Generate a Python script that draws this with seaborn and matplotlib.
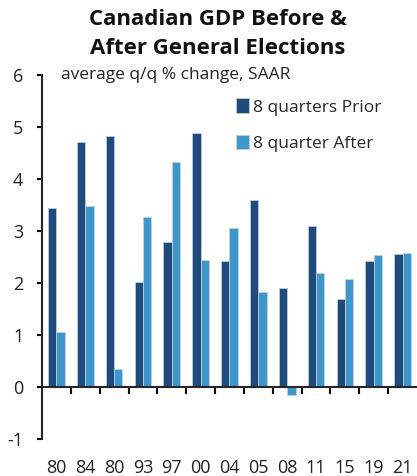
import pandas as pd
import seaborn as sns
import numpy as np
from matplotlib import pyplot as plt
from matplotlib.ticker import FixedLocator

years = ["80", "84", "80", "93", "97", "00", "04", "05", "08", "11", "15", "19", "21"]
prior = [3.44, 4.71, 4.83, 2.01, 2.78, 4.88, 2.42, 3.60, 1.90, 3.10, 1.69, 2.43, 2.56]
after = [1.06, 3.48, 0.35, 3.27, 4.33, 2.45, 3.05, 1.83, -0.15, 2.19, 2.07, 2.54, 2.57]
series = ["8 quarters Prior", "8 quarter After"]
colors = ["#1f4a7c", "#3e97cb"]


def main():
    sns.set_style("white")
    plt.rcParams['font.family'] = ['Open Sans', 'DejaVu Sans']
    plt.rcParams['axes.unicode_minus'] = False

    n = len(years)
    df = pd.DataFrame({
        "pos": list(range(n)) * 2,
        "value": prior + after,
        "series": [series[0]] * n + [series[1]] * n,
    })

    fig = plt.figure(figsize=(4.17, 4.76), dpi=100)
    ax = fig.add_axes([0.1007, 0.0777, 0.8993, 0.7647])
    sns.barplot(data=df, x="pos", y="value", hue="series", hue_order=series,
                palette=colors, saturation=1, width=0.58, native_scale=True, ax=ax,
                edgecolor="#c9d3df", linewidth=0.5, errorbar=None)

    ax.set_xlim(-0.5, n - 0.5)
    ax.set_ylim(-1, 6)
    ax.set_xlabel("")
    ax.set_ylabel("")

    for s in ["top", "right"]:
        ax.spines[s].set_visible(False)
    ax.spines["bottom"].set_position(("data", 0))
    ax.spines["left"].set_linewidth(1.5)
    ax.spines["bottom"].set_linewidth(1.5)

    ax.xaxis.set_major_locator(FixedLocator(range(n)))
    ax.set_xticklabels(years)
    ax.xaxis.set_minor_locator(FixedLocator(np.arange(0.5, n - 1, 1.0)))
    ax.tick_params(axis="x", which="major", length=0, pad=52, labelsize=13, colors="#222222")
    ax.tick_params(axis="x", which="minor", length=5, width=1.5, direction="out", color="black", bottom=True)
    ax.set_yticks(range(-1, 7))
    ax.tick_params(axis="y", length=3.5, width=1.5, pad=10, labelsize=13, colors="#222222", left=True)
    ax.tick_params(axis="both", color="black")

    ax.text(0.05, 1.0, "average q/q % change, SAAR", transform=ax.transAxes,
            fontsize=12.5, color="#222222", va="center", ha="left")

    ax.legend(loc="upper left", bbox_to_anchor=(0.5, 0.955), frameon=False,
              fontsize=12.5, handlelength=0.7, handleheight=0.9, handletextpad=0.25,
              labelspacing=1.1, borderaxespad=0)

    fig.text(0.522, 0.960, "Canadian GDP Before &", ha="center", va="center",
             fontsize=16, fontweight="bold", color="#111111")
    fig.text(0.522, 0.899, "After General Elections", ha="center", va="center",
             fontsize=16, fontweight="bold", color="#111111")

    fig.savefig("out.png", dpi=100)


if __name__ == '__main__':
    main()
